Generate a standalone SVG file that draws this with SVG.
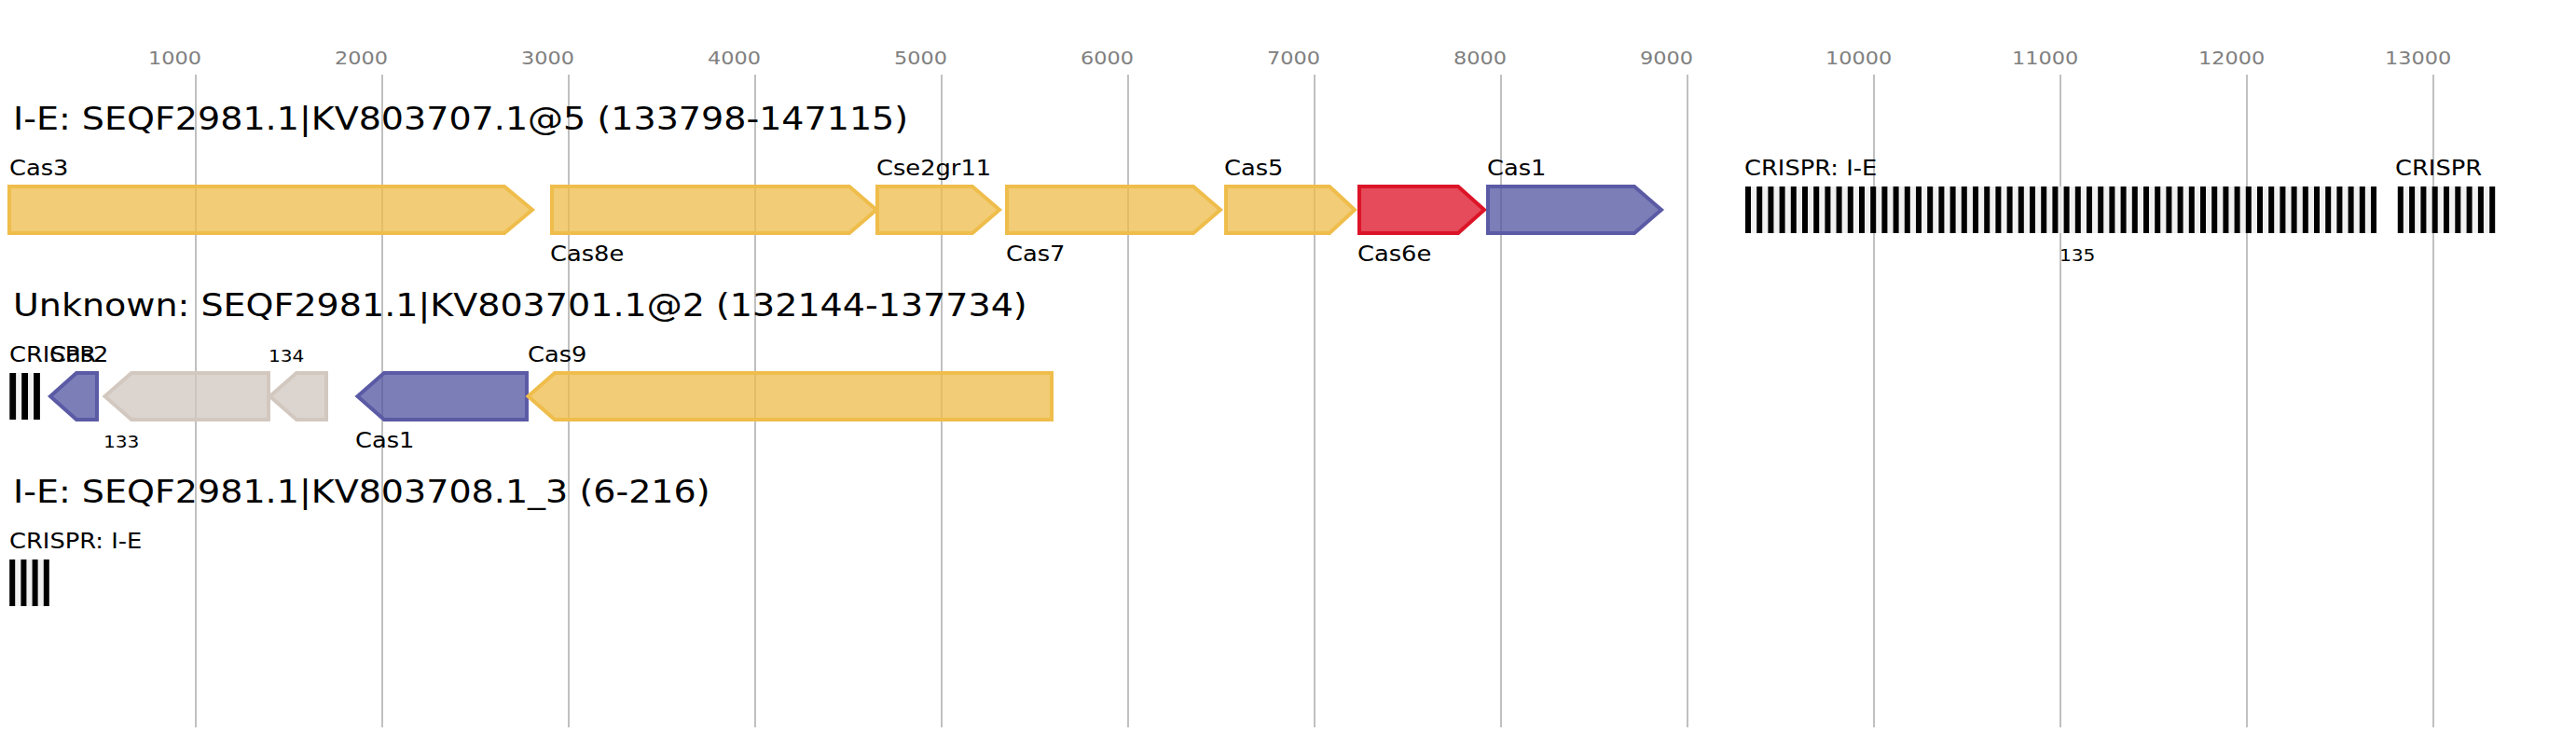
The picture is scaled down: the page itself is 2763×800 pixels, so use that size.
<svg xmlns="http://www.w3.org/2000/svg" width="2763" height="800" viewBox="0 0 2763 800">
<style>
text{font-family:"DejaVu Sans","Liberation Sans",sans-serif;fill:#000;transform-box:fill-box;transform-origin:0 0;transform:scale(1.119,1)}
.title{font-size:34px}
.lbl{font-size:23px}
.num{font-size:18px}
.tick{font-size:20px;fill:#808080}
.grid line{stroke:#c0c0c0;stroke-width:2}
.gene{stroke-width:4;stroke-linejoin:miter;fill-opacity:0.75}
.yel{fill:#edbb48;stroke:#efbd4b}
.red{fill:#dc0f23;stroke:#dc1428}
.blu{fill:#5053a0;stroke:#5a5aa5}
.gry{fill:#d0c7bf;stroke:#d2c8c0}
.sp{fill:#eeeeee;fill-opacity:0.85}
.rep{fill:#000}
</style>
<rect width="2763" height="800" fill="#fff"/>
<g id="axis" class="grid">
<line x1="210" y1="80" x2="210" y2="780"/>
<line x1="410" y1="80" x2="410" y2="780"/>
<line x1="610" y1="80" x2="610" y2="780"/>
<line x1="810" y1="80" x2="810" y2="780"/>
<line x1="1010" y1="80" x2="1010" y2="780"/>
<line x1="1210" y1="80" x2="1210" y2="780"/>
<line x1="1410" y1="80" x2="1410" y2="780"/>
<line x1="1610" y1="80" x2="1610" y2="780"/>
<line x1="1810" y1="80" x2="1810" y2="780"/>
<line x1="2010" y1="80" x2="2010" y2="780"/>
<line x1="2210" y1="80" x2="2210" y2="780"/>
<line x1="2410" y1="80" x2="2410" y2="780"/>
<line x1="2610" y1="80" x2="2610" y2="780"/>
</g>
<g id="ticklabels">
<text class="tick" x="159" y="69">1000</text>
<text class="tick" x="359" y="69">2000</text>
<text class="tick" x="559" y="69">3000</text>
<text class="tick" x="759" y="69">4000</text>
<text class="tick" x="959" y="69">5000</text>
<text class="tick" x="1159" y="69">6000</text>
<text class="tick" x="1359" y="69">7000</text>
<text class="tick" x="1559" y="69">8000</text>
<text class="tick" x="1759" y="69">9000</text>
<text class="tick" x="1958" y="69">10000</text>
<text class="tick" x="2158" y="69">11000</text>
<text class="tick" x="2358" y="69">12000</text>
<text class="tick" x="2558" y="69">13000</text>
</g>
<g id="titles">
<text class="title" x="14" y="139">I-E: SEQF2981.1|KV803707.1@5 (133798-147115)</text>
<text class="title" x="14" y="339">Unknown: SEQF2981.1|KV803701.1@2 (132144-137734)</text>
<text class="title" x="14" y="539">I-E: SEQF2981.1|KV803708.1_3 (6-216)</text>
</g>
<g id="connectors"></g>
<!-- Row 1 -->
<g id="r1-cas3"><polygon class="gene yel" points="10,200 541,200 571,225 541,250 10,250"/><text class="lbl" x="10" y="188">Cas3</text></g>
<g id="r1-cas8e"><polygon class="gene yel" points="592,200 911,200 940,225 911,250 592,250"/><text class="lbl" x="590" y="280">Cas8e</text></g>
<g id="r1-cse2gr11"><polygon class="gene yel" points="941,200 1043,200 1072,225 1043,250 941,250"/><text class="lbl" x="940" y="188">Cse2gr11</text></g>
<g id="r1-cas7"><polygon class="gene yel" points="1080,200 1280,200 1309,225 1280,250 1080,250"/><text class="lbl" x="1079" y="280">Cas7</text></g>
<g id="r1-cas5"><polygon class="gene yel" points="1315,200 1426,200 1453,225 1426,250 1315,250"/><text class="lbl" x="1313" y="188">Cas5</text></g>
<g id="r1-cas6e"><polygon class="gene red" points="1458,200 1564,200 1592,225 1564,250 1458,250"/><text class="lbl" x="1456" y="280">Cas6e</text></g>
<g id="r1-cas1"><polygon class="gene blu" points="1596,200 1753,200 1782,225 1753,250 1596,250"/><text class="lbl" x="1595" y="188">Cas1</text></g>
<g id="r1-crispr1">
<rect class="sp" x="1872" y="200" width="677" height="50"/>
<rect class="rep" x="1872.0" y="200" width="6" height="50"/><rect class="rep" x="1884.2" y="200" width="6" height="50"/><rect class="rep" x="1896.4" y="200" width="6" height="50"/><rect class="rep" x="1908.6" y="200" width="6" height="50"/><rect class="rep" x="1920.8" y="200" width="6" height="50"/><rect class="rep" x="1933.0" y="200" width="6" height="50"/><rect class="rep" x="1945.2" y="200" width="6" height="50"/><rect class="rep" x="1957.4" y="200" width="6" height="50"/>
<rect class="rep" x="1969.6" y="200" width="6" height="50"/><rect class="rep" x="1981.8" y="200" width="6" height="50"/><rect class="rep" x="1994.0" y="200" width="6" height="50"/><rect class="rep" x="2006.2" y="200" width="6" height="50"/><rect class="rep" x="2018.4" y="200" width="6" height="50"/><rect class="rep" x="2030.6" y="200" width="6" height="50"/><rect class="rep" x="2042.8" y="200" width="6" height="50"/><rect class="rep" x="2055.0" y="200" width="6" height="50"/>
<rect class="rep" x="2067.2" y="200" width="6" height="50"/><rect class="rep" x="2079.4" y="200" width="6" height="50"/><rect class="rep" x="2091.6" y="200" width="6" height="50"/><rect class="rep" x="2103.8" y="200" width="6" height="50"/><rect class="rep" x="2116.0" y="200" width="6" height="50"/><rect class="rep" x="2128.2" y="200" width="6" height="50"/><rect class="rep" x="2140.4" y="200" width="6" height="50"/><rect class="rep" x="2152.6" y="200" width="6" height="50"/>
<rect class="rep" x="2164.8" y="200" width="6" height="50"/><rect class="rep" x="2177.0" y="200" width="6" height="50"/><rect class="rep" x="2189.2" y="200" width="6" height="50"/><rect class="rep" x="2201.4" y="200" width="6" height="50"/><rect class="rep" x="2213.6" y="200" width="6" height="50"/><rect class="rep" x="2225.8" y="200" width="6" height="50"/><rect class="rep" x="2238.0" y="200" width="6" height="50"/><rect class="rep" x="2250.2" y="200" width="6" height="50"/>
<rect class="rep" x="2262.4" y="200" width="6" height="50"/><rect class="rep" x="2274.6" y="200" width="6" height="50"/><rect class="rep" x="2286.8" y="200" width="6" height="50"/><rect class="rep" x="2299.0" y="200" width="6" height="50"/><rect class="rep" x="2311.2" y="200" width="6" height="50"/><rect class="rep" x="2323.4" y="200" width="6" height="50"/><rect class="rep" x="2335.6" y="200" width="6" height="50"/><rect class="rep" x="2347.8" y="200" width="6" height="50"/>
<rect class="rep" x="2360.0" y="200" width="6" height="50"/><rect class="rep" x="2372.2" y="200" width="6" height="50"/><rect class="rep" x="2384.4" y="200" width="6" height="50"/><rect class="rep" x="2396.6" y="200" width="6" height="50"/><rect class="rep" x="2408.8" y="200" width="6" height="50"/><rect class="rep" x="2421.0" y="200" width="6" height="50"/><rect class="rep" x="2433.2" y="200" width="6" height="50"/><rect class="rep" x="2445.4" y="200" width="6" height="50"/>
<rect class="rep" x="2457.6" y="200" width="6" height="50"/><rect class="rep" x="2469.8" y="200" width="6" height="50"/><rect class="rep" x="2482.0" y="200" width="6" height="50"/><rect class="rep" x="2494.2" y="200" width="6" height="50"/><rect class="rep" x="2506.4" y="200" width="6" height="50"/><rect class="rep" x="2518.6" y="200" width="6" height="50"/><rect class="rep" x="2530.8" y="200" width="6" height="50"/><rect class="rep" x="2543.0" y="200" width="6" height="50"/>
<text class="lbl" x="1871" y="188">CRISPR: I-E</text>
<text class="num" x="2209" y="280">135</text>
</g>
<g id="r1-crispr2">
<rect class="sp" x="2571.8" y="200" width="104.4" height="50"/>
<rect class="rep" x="2571.8" y="200" width="6" height="50"/><rect class="rep" x="2584.1" y="200" width="6" height="50"/><rect class="rep" x="2596.4" y="200" width="6" height="50"/><rect class="rep" x="2608.7" y="200" width="6" height="50"/><rect class="rep" x="2621.0" y="200" width="6" height="50"/><rect class="rep" x="2633.3" y="200" width="6" height="50"/><rect class="rep" x="2645.6" y="200" width="6" height="50"/><rect class="rep" x="2657.9" y="200" width="6" height="50"/><rect class="rep" x="2670.2" y="200" width="6" height="50"/>
<text class="lbl" x="2569" y="188">CRISPR</text>
</g>
<!-- Row 2 -->
<g id="r2-crispr">
<rect class="sp" x="10.3" y="400" width="32.6" height="50"/>
<rect class="rep" x="10.3" y="400" width="6.8" height="50"/><rect class="rep" x="23.2" y="400" width="6.8" height="50"/><rect class="rep" x="36.1" y="400" width="6.8" height="50"/>
<text class="lbl" x="10" y="388">CRISPR</text>
</g>
<g id="r2-cas2"><polygon class="gene blu" points="104,400 82,400 54,425 82,450 104,450"/><text class="lbl" x="53" y="388">Cas2</text></g>
<g id="r2-133"><polygon class="gene gry" points="288,400 141,400 112.5,425 141,450 288,450"/><text class="num" x="111" y="480">133</text></g>
<g id="r2-134"><polygon class="gene gry" points="350,400 318,400 289.5,425 318,450 350,450"/><text class="num" x="288" y="388">134</text></g>
<g id="r2-cas1"><polygon class="gene blu" points="565,400 412,400 383.5,425 412,450 565,450"/><text class="lbl" x="381" y="480">Cas1</text></g>
<g id="r2-cas9"><polygon class="gene yel" points="1128,400 595,400 566.5,425 595,450 1128,450"/><text class="lbl" x="566" y="388">Cas9</text></g>
<!-- Row 3 -->
<g id="r3-crispr">
<rect class="sp" x="10.2" y="600" width="42.6" height="50"/>
<rect class="rep" x="10.2" y="600" width="6" height="50"/><rect class="rep" x="22.4" y="600" width="6" height="50"/><rect class="rep" x="34.6" y="600" width="6" height="50"/><rect class="rep" x="46.8" y="600" width="6" height="50"/>
<text class="lbl" x="10" y="588">CRISPR: I-E</text>
</g>
</svg>
